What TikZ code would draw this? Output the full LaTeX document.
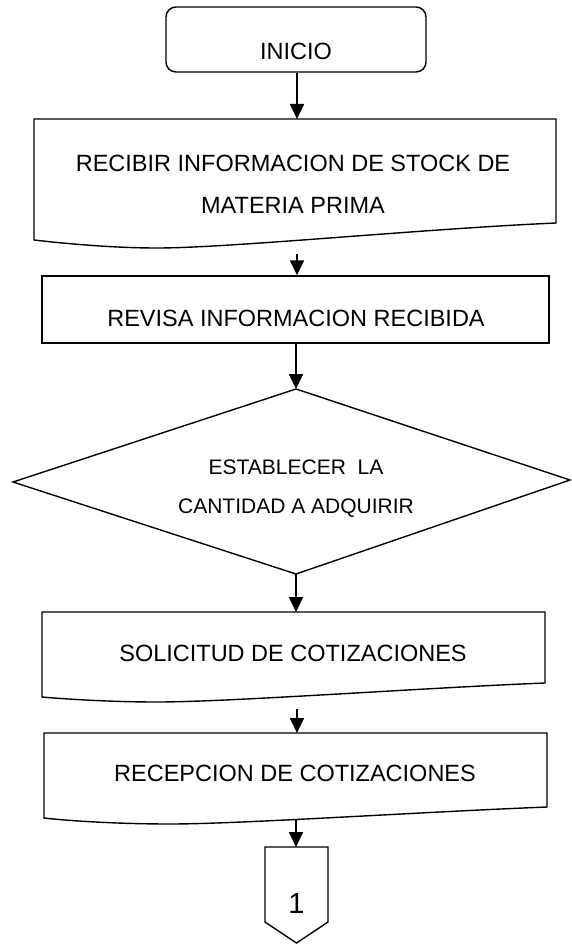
\documentclass[tikz,border=0pt]{standalone}
\usepackage{fontspec}
\setmainfont{Liberation Sans}
\usetikzlibrary{arrows.meta}
\begin{document}
\begin{tikzpicture}[x=1pt,y=-1pt,
  boxline/.style={draw=black, line width=1.4pt, line join=miter},
  flow/.style={-{Triangle[width=14pt,length=15pt]}, line width=1.8pt},
  txt/.style={font=\fontsize{23.5}{28}\selectfont, anchor=base, inner sep=0pt},
  dtxt/.style={font=\fontsize{21}{25}\selectfont, anchor=base, inner sep=0pt},
  ntxt/.style={font=\fontsize{29}{34}\selectfont, anchor=base, inner sep=0pt}]
\useasboundingbox[fill=white] (0,0) rectangle (571,944);

% INICIO
\node[boxline, rounded corners=10pt, minimum width=260pt, minimum height=65pt, inner sep=0pt] (inicio) at (296,39.5) {};
\node[txt] (tinicio) at (296,59.5) {INICIO};

% Box 1 (document)
\draw[boxline] (34,119) -- (556,119) -- (556,223)
  .. controls (420,229) and (230,248) .. (157,248)
  .. controls (110,248) and (60,243) .. (34,240) -- cycle;
\coordinate (b1top) at (297,119);
\coordinate (b1bot) at (297,254);
\node[txt] (t1a) at (293,171.5) {RECIBIR INFORMACION DE STOCK DE};
\node[txt] (t1b) at (293,213) {MATERIA PRIMA};

% Box 2
\node[boxline, minimum width=507pt, minimum height=67pt, inner sep=0pt] (revisa) at (295.5,309.5) {};
\node[txt] (t2) at (296,326.5) {REVISA INFORMACION RECIBIDA};

% Diamond
\coordinate (dtop) at (296,389);
\coordinate (dright) at (570,480);
\coordinate (dbot) at (296,574);
\coordinate (dleft) at (13,482);
\draw[boxline] (dtop) -- (dright) -- (dbot) -- (dleft) -- cycle;
\node[dtxt] (td1) at (296,474.5) {ESTABLECER\ \ LA};
\node[dtxt] (td2) at (296,513.5) {CANTIDAD A ADQUIRIR};

% Box 3 (document)
\draw[boxline] (42,612) -- (545,612) -- (545,683)
  .. controls (420,688) and (230,702) .. (157,702)
  .. controls (110,702) and (65,699) .. (42,697) -- cycle;
\coordinate (b3top) at (297,612);
\coordinate (b3bot) at (297,709);
\node[txt] (t3) at (293,661.5) {SOLICITUD DE COTIZACIONES};

% Box 4 (document)
\draw[boxline] (44,733) -- (547,733) -- (547,807)
  .. controls (420,812) and (240,824) .. (170,824)
  .. controls (120,824) and (70,821) .. (44,818) -- cycle;
\coordinate (b4top) at (296,733);
\coordinate (b4bot) at (296,820);
\node[txt] (t4) at (295,781.5) {RECEPCION DE COTIZACIONES};

% Off-page connector
\coordinate (ptop) at (296.5,847);
\draw[boxline] (265,847) -- (328,847) -- (328,922) -- (296.5,943) -- (265,922) -- cycle;
\node[ntxt] (tp) at (296.5,913) {1};

% Connectors
\draw[flow] (inicio.south -| b1top) -- (b1top);
\draw[flow] (b1bot) -- (revisa.north -| b1bot);
\draw[flow] (revisa.south -| dtop) -- (dtop);
\draw[flow] (dbot) -- (b3top -| dbot);
\draw[flow] (b3bot) -- (b4top -| b3bot);
\draw[flow] (b4bot) -- (ptop -| b4bot);
\end{tikzpicture}
\end{document}
